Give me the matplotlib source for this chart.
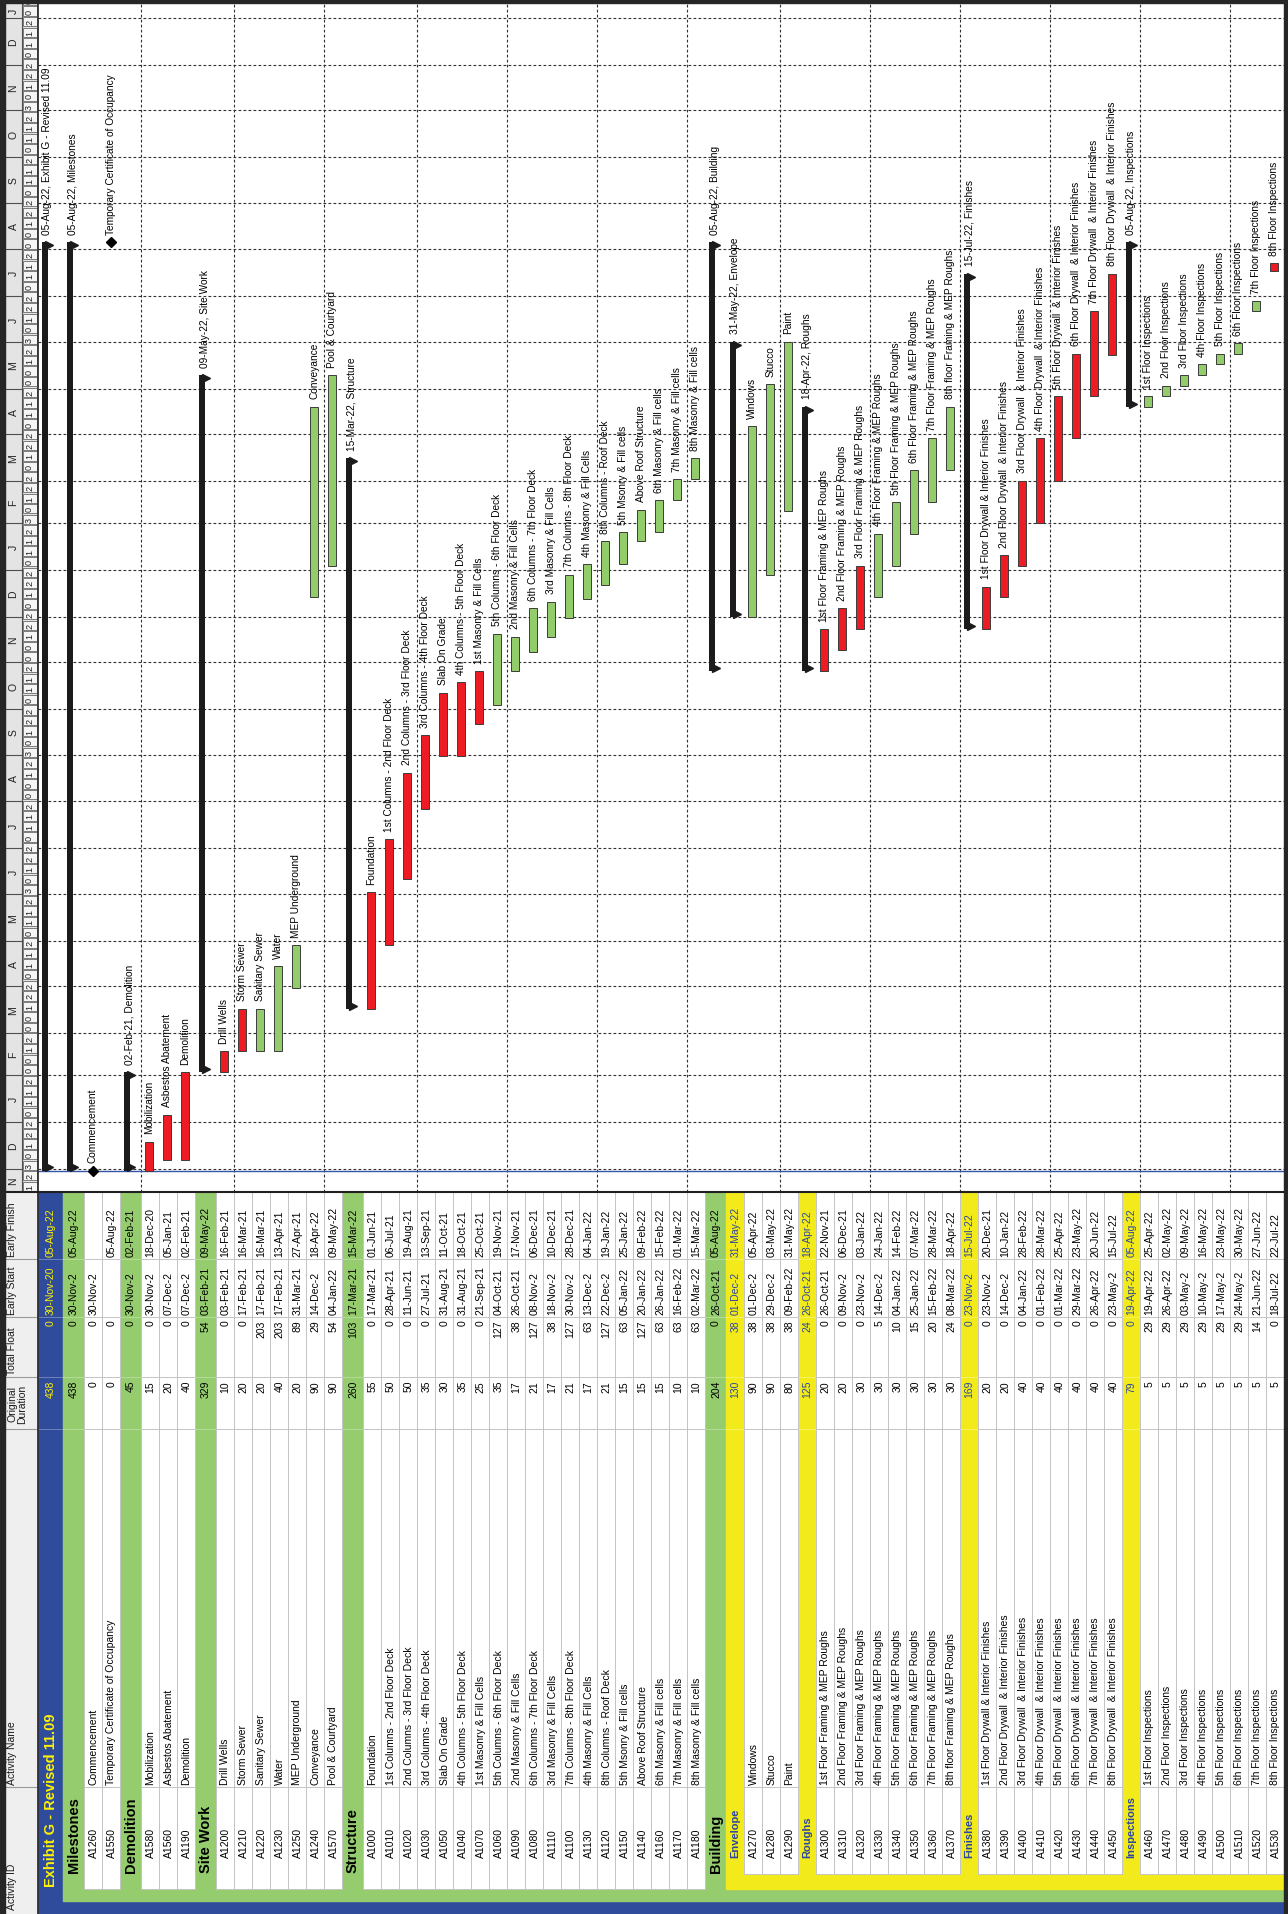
import datetime as dt
import matplotlib
matplotlib.use('Agg')
import matplotlib.pyplot as plt
import matplotlib.dates as mdates
from matplotlib.patches import Rectangle
from matplotlib.lines import Line2D

plt.rcParams['font.family'] = ['Liberation Sans', 'DejaVu Sans']

W, H = 1288, 1915  # page size in px (dpi 100)

# --- schedule rows: top / grp / sub / task / ms ---
kinds = (['top', 'grp', 'ms', 'ms', 'grp', 'task', 'task', 'task', 'grp'] + ['task'] * 7
         + ['grp'] + ['task'] * 19 + ['grp', 'sub'] + ['task'] * 3 + ['sub'] + ['task'] * 8
         + ['sub'] + ['task'] * 8 + ['sub'] + ['task'] * 8)

act_ids = ['', '', 'A1260', 'A1550', '', 'A1580', 'A1560', 'A1190',
           '', 'A1200', 'A1210', 'A1220', 'A1230', 'A1250', 'A1240', 'A1570',
           '', 'A1000', 'A1010', 'A1020', 'A1030', 'A1050', 'A1040', 'A1070', 'A1060', 'A1090',
           'A1080', 'A1110', 'A1100', 'A1130', 'A1120', 'A1150', 'A1140', 'A1160', 'A1170', 'A1180',
           '', '', 'A1270', 'A1280', 'A1290',
           '', 'A1300', 'A1310', 'A1320', 'A1330', 'A1340', 'A1350', 'A1360', 'A1370',
           '', 'A1380', 'A1390', 'A1400', 'A1410', 'A1420', 'A1430', 'A1440', 'A1450',
           '', 'A1460', 'A1470', 'A1480', 'A1490', 'A1500', 'A1510', 'A1520', 'A1530']

act_names = ['Exhibit G - Revised 11.09', 'Milestones', 'Commencement', 'Temporary Certificate of Occupancy',
             'Demolition', 'Mobilization', 'Asbestos Abatement', 'Demolition',
             'Site Work', 'Drill Wells', 'Storm Sewer', 'Sanitary Sewer', 'Water', 'MEP Underground',
             'Conveyance', 'Pool & Courtyard',
             'Structure', 'Foundation', '1st Columns - 2nd Floor Deck', '2nd Columns - 3rd Floor Deck',
             '3rd Columns - 4th Floor Deck', 'Slab On Grade', '4th Columns - 5th Floor Deck',
             '1st Masonry & Fill Cells', '5th Columns - 6th Floor Deck', '2nd Masonry & Fill Cells',
             '6th Columns - 7th Floor Deck', '3rd Masonry & Fill Cells', '7th Columns - 8th Floor Deck',
             '4th Masonry & Fill Cells', '8th Columns - Roof Deck', '5th Msonry & Fill cells',
             'Above Roof Structure', '6th Masonry & Fill cells', '7th Masonry & Fill cells',
             '8th Masonry & Fill cells',
             'Building', 'Envelope', 'Windows', 'Stucco', 'Paint',
             'Roughs', '1st Floor Framing & MEP Roughs', '2nd Floor Framing & MEP Roughs',
             '3rd Floor Framing & MEP Roughs', '4th Floor Framing & MEP Roughs',
             '5th Floor Framing & MEP Roughs', '6th Floor Framing & MEP Roughs',
             '7th Floor Framing & MEP Roughs', '8th floor Framing & MEP Roughs',
             'Finishes', '1st Floor Drywall & Interior Finishes', '2nd Floor Drywall  & Interior Finishes',
             '3rd Floor Drywall  & Interior Finishes', '4th Floor Drywall  & Interior Finishes',
             '5th Floor Drywall  & Interior Finishes', '6th Floor Drywall  & Interior Finishes',
             '7th Floor Drywall  & Interior Finishes', '8th Floor Drywall  & Interior Finishes',
             'Inspections', '1st Floor Inspections', '2nd Floor Inspections', '3rd Floor Inspections',
             '4th Floor Inspections', '5th Floor Inspections', '6th Floor Inspections',
             '7th Floor Inspections', '8th Floor Inspections']

orig_dur = [438, 438, 0, 0, 45, 15, 20, 40, 329, 10, 20, 20, 40, 20, 90, 90,
            260, 55, 50, 50, 35, 30, 35, 25, 35, 17, 21, 17, 21, 17, 21, 15, 15, 15, 10, 10,
            204, 130, 90, 90, 80, 125, 20, 20, 30, 30, 30, 30, 30, 30,
            169, 20, 20, 40, 40, 40, 40, 40, 40, 79, 5, 5, 5, 5, 5, 5, 5, 5]

total_float = [0, 0, 0, 0, 0, 0, 0, 0, 54, 0, 0, 203, 203, 89, 29, 54,
               103, 0, 0, 0, 0, 0, 0, 0, 127, 38, 127, 38, 127, 63, 127, 63, 127, 63, 63, 63,
               0, 38, 38, 38, 38, 24, 0, 0, 0, 5, 10, 15, 20, 24,
               0, 0, 0, 0, 0, 0, 0, 0, 0, 0, 29, 29, 29, 29, 29, 29, 14, 0]

early_start = ['30-Nov-20', '30-Nov-20', '30-Nov-20', '', '30-Nov-20', '30-Nov-20', '07-Dec-20', '07-Dec-20',
               '03-Feb-21', '03-Feb-21', '17-Feb-21', '17-Feb-21', '17-Feb-21', '31-Mar-21', '14-Dec-21',
               '04-Jan-22',
               '17-Mar-21', '17-Mar-21', '28-Apr-21', '11-Jun-21', '27-Jul-21', '31-Aug-21', '31-Aug-21',
               '21-Sep-21', '04-Oct-21', '26-Oct-21', '08-Nov-21', '18-Nov-21', '30-Nov-21', '13-Dec-21',
               '22-Dec-21', '05-Jan-22', '20-Jan-22', '26-Jan-22', '16-Feb-22', '02-Mar-22',
               '26-Oct-21', '01-Dec-21', '01-Dec-21', '29-Dec-21', '09-Feb-22',
               '26-Oct-21', '26-Oct-21', '09-Nov-21', '23-Nov-21', '14-Dec-21', '04-Jan-22', '25-Jan-22',
               '15-Feb-22', '08-Mar-22',
               '23-Nov-21', '23-Nov-21', '14-Dec-21', '04-Jan-22', '01-Feb-22', '01-Mar-22', '29-Mar-22',
               '26-Apr-22', '23-May-22',
               '19-Apr-22', '19-Apr-22', '26-Apr-22', '03-May-22', '10-May-22', '17-May-22', '24-May-22',
               '21-Jun-22', '18-Jul-22']

early_finish = ['05-Aug-22', '05-Aug-22', '', '05-Aug-22', '02-Feb-21', '18-Dec-20', '05-Jan-21', '02-Feb-21',
                '09-May-22', '16-Feb-21', '16-Mar-21', '16-Mar-21', '13-Apr-21', '27-Apr-21', '18-Apr-22',
                '09-May-22',
                '15-Mar-22', '01-Jun-21', '06-Jul-21', '19-Aug-21', '13-Sep-21', '11-Oct-21', '18-Oct-21',
                '25-Oct-21', '19-Nov-21', '17-Nov-21', '06-Dec-21', '10-Dec-21', '28-Dec-21', '04-Jan-22',
                '19-Jan-22', '25-Jan-22', '09-Feb-22', '15-Feb-22', '01-Mar-22', '15-Mar-22',
                '05-Aug-22', '31-May-22', '05-Apr-22', '03-May-22', '31-May-22',
                '18-Apr-22', '22-Nov-21', '06-Dec-21', '03-Jan-22', '24-Jan-22', '14-Feb-22', '07-Mar-22',
                '28-Mar-22', '18-Apr-22',
                '15-Jul-22', '20-Dec-21', '10-Jan-22', '28-Feb-22', '28-Mar-22', '25-Apr-22', '23-May-22',
                '20-Jun-22', '15-Jul-22',
                '05-Aug-22', '25-Apr-22', '02-May-22', '09-May-22', '16-May-22', '23-May-22', '30-May-22',
                '27-Jun-22', '22-Jul-22']


def num(s):
    return mdates.date2num(dt.datetime.strptime(s, '%d-%b-%y'))


def start_text(i):
    # the narrow start column cuts the last digit off the wide month names
    s = early_start[i]
    if s and kinds[i] != 'top' and s[3:6] in ('Nov', 'Dec', 'May'):
        return s[:-1]
    return s


RED, GREEN = '#ED1C24', '#93CD6B'
BLUE, YEL, GRN_ROW = '#2F4C9C', '#F2EA1B', '#95CC6D'
SUBTXT = '#2B46A0'
LINE = '#C4C4C4'

# row widths across the page
row_h = {'top': 25, 'grp': 21, 'sub': 18, 'task': 18, 'ms': 18}
x0, depth = [], []
acc, in_sub = 0, False
for k in kinds:
    x0.append(acc)
    acc += row_h[k]
    if k == 'grp':
        in_sub = False
    if k == 'sub':
        in_sub = True
    depth.append(2 if in_sub and k in ('task', 'ms') else 1)
ROWS_W = acc

TOP, SPLIT, LEFT, HDR = 4, 1193, 38, 5


def box(x, y, w, h):
    return [x / W, 1 - (y + h) / H, w / W, h / H]


fig = plt.figure(figsize=(W / 100, H / 100), dpi=100)

# ---------------- gantt ----------------
ax = fig.add_axes(box(LEFT, TOP, ROWS_W, SPLIT - TOP))
PXD = 1.5125  # px per day
dec1 = num('01-Dec-20')
ylo = dec1 - (SPLIT - 1170) / PXD
yhi = dec1 + (1170 - TOP) / PXD
ax.set_xlim(0, ROWS_W)
ax.set_ylim(ylo, yhi)
ax.axis('off')

months = []
yy, mm = 2020, 11
while (yy, mm) <= (2023, 2):
    months.append(dt.datetime(yy, mm, 1))
    mm += 1
    if mm > 12:
        yy, mm = yy + 1, 1

for mo in months[1:-1]:
    ax.axhline(mdates.date2num(mo), color='#303030', lw=0.8, ls=(0, (2.5, 2)), zorder=1)
for i in range(5, len(kinds), 5):
    ax.axvline(x0[i], color='#303030', lw=0.8, ls=(0, (2.5, 2)), zorder=1)

# data date
ax.axhline(num('30-Nov-20'), color='#3355AA', lw=1.0, zorder=2)

GAP = 5.5  # days between bar end and its label
for i, k in enumerate(kinds):
    xc = x0[i] + row_h[k] / 2
    s = num(early_start[i]) if early_start[i] else None
    f = num(early_finish[i]) + 1 if early_finish[i] else None
    if k == 'task':
        col = RED if total_float[i] == 0 else GREEN
        ax.bar(xc - 0.8, f - s, bottom=s, width=7.5, color=col, edgecolor='#3C3C3C', lw=0.7, zorder=3)
        ax.text(xc - 0.8, f + GAP, act_names[i], rotation=90, ha='center', va='bottom',
                fontsize=7.3, zorder=4)
    elif k == 'ms':
        t = s if s is not None else f
        ax.plot([xc - 0.5], [t], marker='D', ms=5, color='black', zorder=4)
        ax.text(xc - 0.5, t + GAP, act_names[i], rotation=90, ha='center', va='bottom',
                fontsize=7.3, zorder=4)
    else:
        bx = x0[i] + 4
        ax.bar(bx + 2.75, f - s, bottom=s, width=5.5, color='#1B1B1B', lw=0, zorder=3)
        ax.plot([bx + 6.5] * 2, [s + 2, f - 2], ls='none', marker='>', ms=5.5,
                color='#1B1B1B', zorder=3)
        ax.text(bx + 5.5, f + GAP, f'{early_finish[i]}, {act_names[i]}', rotation=90,
                ha='center', va='bottom', fontsize=7.3, zorder=4)

# ---------------- timescale ----------------
axh = fig.add_axes(box(HDR, TOP, LEFT - HDR, SPLIT - TOP))
axh.set_xlim(0, 33)
axh.set_ylim(ylo, yhi)
axh.axis('off')
axh.add_patch(Rectangle((0, ylo), 33, yhi - ylo, facecolor='#E4E4E4', edgecolor='none'))
for mo, nx in zip(months[:-1], months[1:]):
    a, b = mdates.date2num(mo), mdates.date2num(nx)
    axh.plot([0, 16.5], [a, a], color='#505050', lw=0.8)
    mid = (max(a, ylo) + min(b, yhi)) / 2
    axh.text(8.5, mid, 'JFMAMJJASOND'[mo.month - 1], rotation=90, ha='center', va='center',
             fontsize=7.5, color='#202020', clip_on=True)
wk = dt.datetime(2020, 11, 9)
while mdates.date2num(wk) < yhi:
    w0 = mdates.date2num(wk)
    axh.add_patch(Rectangle((17.5, w0 + 0.4), 14, 6.2, facecolor='#F5F5F5', edgecolor='#6A6A6A',
                            lw=0.6, clip_on=True))
    axh.text(24.5, w0 + 3.5, f'{wk.day:02d}'[0], rotation=90, ha='center', va='center',
             fontsize=6.6, color='#202020', clip_on=True)
    wk += dt.timedelta(days=7)
axh.axvline(16.8, color='#505050', lw=0.8)

# ---------------- activity table ----------------
C_ES, C_TF, C_OD, C_AN, C_ID = 1260, 1318, 1378, 1430, 1788
axt = fig.add_axes(box(LEFT, SPLIT, ROWS_W, H - SPLIT))
axt.set_xlim(0, ROWS_W)
axt.set_ylim(H, SPLIT)
axt.axis('off')
axt.add_patch(Rectangle((0, SPLIT), ROWS_W, H - SPLIT, color=BLUE, zorder=0))

for i, k in enumerate(kinds):
    if k in ('grp', 'sub'):
        stop = ('grp',) if k == 'grp' else ('grp', 'sub')
        j = i + 1
        while j < len(kinds) and kinds[j] not in stop:
            j += 1
        end = x0[j] if j < len(kinds) else ROWS_W
        col, bot = (GRN_ROW, 1901.5) if k == 'grp' else (YEL, 1889.5)
        axt.add_patch(Rectangle((x0[i], SPLIT), end - x0[i], bot - SPLIT, color=col, zorder=1))

for i, k in enumerate(kinds):
    w = row_h[k]
    if k in ('task', 'ms'):
        bot = 1889.5 if depth[i] == 1 else 1875
        axt.add_patch(Rectangle((x0[i], SPLIT), w, bot - SPLIT, facecolor='white', edgecolor=LINE,
                                lw=0.7, zorder=2))
        axt.hlines([C_ES, C_TF, C_OD, C_AN, C_ID], x0[i], x0[i] + w, color=LINE, lw=0.7, zorder=2.5)
    else:
        axt.hlines([C_ES, C_TF, C_OD, C_AN], x0[i], x0[i] + w, color='white', lw=0.6,
                   alpha=0.35, zorder=2.5)

FS = 7.5
for i, k in enumerate(kinds):
    xc = x0[i] + row_h[k] / 2 + 0.5
    col = {'top': '#FFF200', 'sub': SUBTXT}.get(k, 'black')
    kw = dict(rotation=90, ha='center', fontsize=FS, color=col, zorder=5)
    axt.text(xc, C_ES - 3, early_finish[i], va='bottom', **kw)
    axt.text(xc, C_TF - 3, start_text(i), va='bottom', **kw)
    axt.text(xc, C_TF + 2.5, str(total_float[i]), va='top', **kw)
    axt.text(xc, C_OD + 3, str(orig_dur[i]), va='top', **kw)
    if k in ('task', 'ms'):
        axt.text(xc, C_ID - 2.5, act_names[i], va='bottom', **kw)
        axt.text(xc, 1858, act_ids[i], va='bottom', **kw)
    else:
        kw.update(fontweight='bold')
        if k == 'top':
            kw.update(fontsize=10.5)
            axt.text(xc, 1887, act_names[i], va='bottom', **kw)
        elif k == 'grp':
            kw.update(fontsize=10.5)
            axt.text(xc, 1873, act_names[i], va='bottom', **kw)
        else:
            kw.update(fontsize=8)
            axt.text(xc, 1858, act_names[i], va='bottom', **kw)

# column headers
axth = fig.add_axes(box(HDR, SPLIT, LEFT - HDR, H - SPLIT))
axth.set_xlim(HDR, LEFT)
axth.set_ylim(H, SPLIT)
axth.axis('off')
axth.add_patch(Rectangle((HDR, SPLIT), LEFT - HDR, H - SPLIT, color='#EFEFEF'))
axth.hlines([C_ES, C_TF, C_OD, C_AN, C_ID], HDR, LEFT, color='#9A9A9A', lw=0.8)
hk = dict(rotation=90, ha='center', fontsize=FS, color='#1A1A1A')
axth.text(12, C_ES - 3, 'Early Finish', va='bottom', **hk)
axth.text(12, C_TF - 3, 'Early Start', va='bottom', **hk)
axth.text(12, C_OD - 3, 'Total Float', va='bottom', **hk)
axth.text(17, (C_OD + C_AN) / 2, 'Original\nDuration', va='center', multialignment='center',
          linespacing=1.0, **hk)
axth.text(12, C_ID - 3, 'Activity Name', va='bottom', **hk)
axth.text(12, 1910, 'Activity ID', va='bottom', **hk)

# page frame
dark = '#262626'
fig.add_artist(Rectangle((0, 0), HDR / W, 1, transform=fig.transFigure, color=dark, zorder=10))
fig.add_artist(Rectangle((0, 1 - TOP / H), 1, TOP / H, transform=fig.transFigure, color=dark, zorder=10))
fig.add_artist(Rectangle(((LEFT + ROWS_W) / W, 0), 1, 1, transform=fig.transFigure, color=dark, zorder=10))
fig.add_artist(Line2D([LEFT / W] * 2, [0, 1], transform=fig.transFigure, color='#303030', lw=1.3, zorder=9))
fig.add_artist(Line2D([0, 1], [1 - SPLIT / H] * 2, transform=fig.transFigure, color='#202020', lw=1.5,
                      zorder=9))

fig.savefig('out.png', dpi=100)
